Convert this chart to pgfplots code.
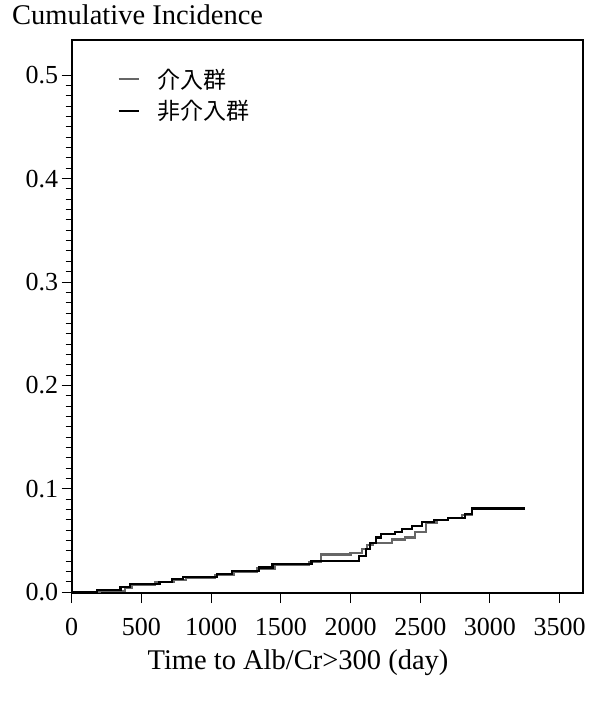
\documentclass[border=0pt]{standalone}
\usepackage{pgfplots}
\pgfplotsset{compat=1.18}
\usepackage{fontspec}
\setmainfont{Liberation Serif}
\newfontfamily\cjk{Noto Sans CJK JP}
\begin{document}
\begin{tikzpicture}
\path[use as bounding box] (0pt,0pt) rectangle (590pt,703pt);
\begin{axis}[
  at={(71.7pt,110pt)}, anchor=south west,
  scale only axis, width=511pt, height=553pt,
  xmin=0, xmax=3665, ymin=-0.0007, ymax=0.534,
  xtick={0,500,...,3500},
  ytick={0,0.1,...,0.5},
  minor y tick num=9,
  yticklabel style={/pgf/number format/fixed,/pgf/number format/fixed zerofill,/pgf/number format/precision=1},
  /pgf/number format/assume math mode=true,
  scaled y ticks=false,
  xticklabel style={/pgf/number format/1000 sep={}},
  tick label style={font=\fontsize{26}{30}\selectfont},
  tick align=outside,
  xtick pos=bottom, ytick pos=left,
  major tick length=10pt, minor tick length=6pt,
  every tick/.style={black, line width=1pt},
  axis line style={line width=1.6pt},
  xticklabel shift=12pt,
  yticklabel shift=0pt,
  legend style={at={(0.089,0.952)}, anchor=north west, draw=none, fill=none,
    font=\cjk\fontsize{23}{27}\selectfont, row sep=7pt, inner sep=0pt},
  legend cell align=left,
  legend image code/.code={\draw[#1, line width=2.6pt] (0pt,0pt) -- (20pt,0pt); \path[draw=none] (0pt,0pt) -- (37pt,0pt);},
  clip=false,
]
\addplot[const plot, black!60, line width=2.2pt] coordinates {
(0,0) (200,0.001) (380,0.004) (430,0.007) (600,0.010) (730,0.012) (820,0.014)
(1030,0.017) (1160,0.020) (1330,0.023) (1460,0.026) (1700,0.029) (1790,0.0365)
(2000,0.038) (2080,0.042) (2120,0.046) (2160,0.048) (2300,0.051) (2390,0.053)
(2465,0.058) (2540,0.0675) (2620,0.070) (2700,0.072) (2800,0.075) (2870,0.081) (3250,0.081)
};
\addlegendentry{介入群}
\addplot[const plot, black, line width=2.2pt] coordinates {
(0,0) (180,0.002) (350,0.005) (420,0.008) (630,0.010) (720,0.0125) (800,0.0145)
(1040,0.018) (1150,0.0205) (1345,0.024) (1440,0.027) (1720,0.030) (2060,0.035)
(2110,0.042) (2140,0.048) (2180,0.053) (2220,0.056) (2320,0.058) (2370,0.061)
(2440,0.064) (2510,0.068) (2600,0.070) (2700,0.072) (2820,0.0755) (2870,0.081) (3250,0.081)
};
\addlegendentry{非介入群}
\end{axis}
\node[anchor=base west, font=\fontsize{28.5}{32}\selectfont, inner sep=0pt] at (12pt,678pt) {Cumulative Incidence};
\node[anchor=center, font=\fontsize{28.5}{32}\selectfont, inner sep=0pt] at (298pt,40pt) {Time to Alb/Cr>300 (day)};
\end{tikzpicture}
\end{document}
